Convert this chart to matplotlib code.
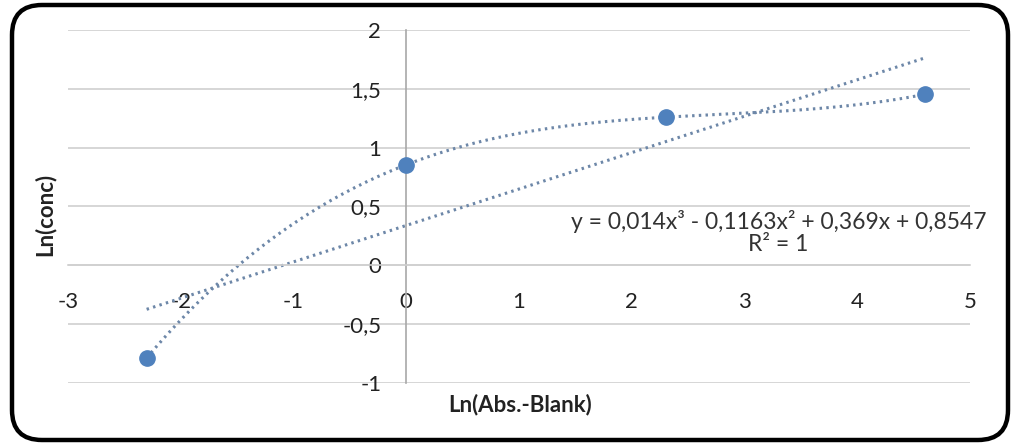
import matplotlib
matplotlib.use("Agg")
import matplotlib.pyplot as plt
import numpy as np
from matplotlib.patches import FancyBboxPatch
from matplotlib.transforms import IdentityTransform

plt.rcParams['font.family'] = ['Lato', 'DejaVu Sans']

# data
x = [-2.3026, 0.0, 2.3026, 4.6052]
y = [-0.787, 0.855, 1.259, 1.454]
xticks = [-3, -2, -1, 0, 1, 2, 3, 4, 5]
yticks = [-1, -0.5, 0, 0.5, 1, 1.5, 2]
eq_line = "y = 0,014x³ - 0,1163x² + 0,369x + 0,8547"
r2_line = "R² = 1"

fig = plt.figure(figsize=(10.12, 4.47), dpi=100)
ax = fig.add_axes([0.0672, 0.1432, 0.8913, 0.7897])

# trendlines: cubic (poly 3) and linear
xs = np.linspace(min(x), max(x), 200)
p3 = np.polyfit(x, y, 3)
p1 = np.polyfit(x, y, 1)
line_col = '#6d87a8'
ax.plot(xs, np.polyval(p3, xs), color=line_col, lw=2.2, ls=(0, (0.8, 1.4)), zorder=2)
ax.plot(xs, np.polyval(p1, xs), color=line_col, lw=2.2, ls=(0, (0.8, 1.4)), zorder=2)
ax.plot(x, y, 'o', color='#4f81bd', ms=11, zorder=3)

ax.set_xlim(-3, 5)
ax.set_ylim(-1, 2)
ax.set_xticks(xticks)
ax.set_yticks(yticks)
ax.set_xticklabels([str(t) for t in xticks])
ax.set_yticklabels([str(t).replace('.', ',') for t in yticks])
ax.grid(axis='y', color='#d0d0d0', lw=1.2)
ax.set_axisbelow(True)

for s in ['top', 'right']:
    ax.spines[s].set_visible(False)
ax.spines['left'].set_position(('data', 0))
ax.spines['bottom'].set_position(('data', 0))
ax.spines['left'].set_color('#a8a8a8')
ax.spines['bottom'].set_color('#d0d0d0')
ax.spines['left'].set_linewidth(1.2)
ax.spines['bottom'].set_linewidth(1.2)
ax.tick_params(axis='x', length=0, pad=19, labelsize=16, colors='#222222')
ax.tick_params(axis='y', length=0, pad=18, labelsize=16, colors='#222222')

# trendline label (Excel style)
ax.text(3.3, 0.37, eq_line, fontsize=16.5, ha='center', va='center', color='#333333')
ax.text(3.3, 0.175, r2_line, fontsize=16.5, ha='center', va='center', color='#333333')

fig.text(0.5135, 0.094, "Ln(Abs.-Blank)", ha='center', va='center',
         fontsize=16, fontweight='bold', color='#222222')
fig.text(0.044, 0.52, "Ln(conc)", ha='center', va='center', rotation=90,
         fontsize=16, fontweight='bold', color='#222222')

frame = FancyBboxPatch((12, 7), 996, 435, boxstyle="round,pad=0,rounding_size=30",
                       transform=IdentityTransform(), fill=False, lw=3.2, ec='black')
fig.add_artist(frame)

fig.savefig("out.png", dpi=100)
